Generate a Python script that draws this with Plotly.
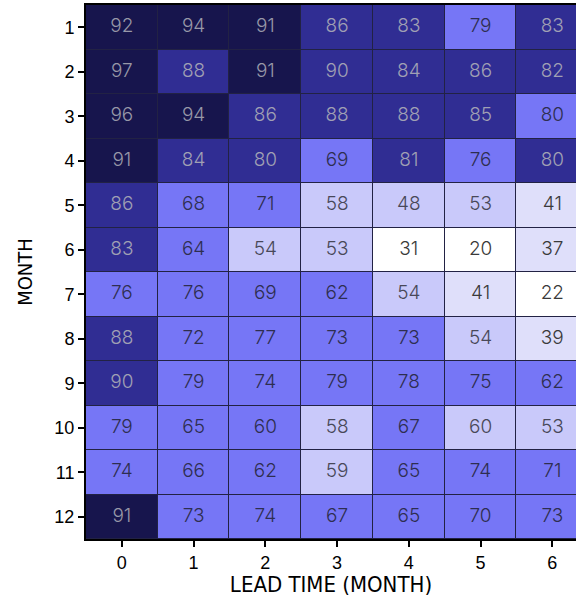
import plotly.graph_objects as go

months = [1, 2, 3, 4, 5, 6, 7, 8, 9, 10, 11, 12]
leads = [0, 1, 2, 3, 4, 5, 6]
month_labels = [str(m) for m in months]
lead_labels = [str(l) for l in leads]

row01 = [92, 94, 91, 86, 83, 79, 83]
row02 = [97, 88, 91, 89.6, 84, 86, 82]
row03 = [96, 94, 86, 88, 88, 85, 79.6]
row04 = [91, 84, 80, 69, 81, 76, 80]
row05 = [86, 68, 71, 58, 48, 53, 41]
row06 = [83, 64, 54, 53, 31, 20, 37]
row07 = [76, 76, 69, 62, 54, 41, 22]
row08 = [88, 72, 77, 73, 73, 54, 39]
row09 = [89.6, 79, 74, 79, 78, 75, 62]
row10 = [79, 65, 60, 58, 67, 59.6, 53]
row11 = [74, 66, 62, 59, 65, 74, 71]
row12 = [91, 73, 74, 67, 65, 70, 73]
skill = [row01, row02, row03, row04, row05, row06, row07, row08, row09, row10, row11, row12]

levels = [0, 35, 45, 60, 80, 90, 100]
level_colors = ["#ffffff", "#dfdffa", "#c9c9fa", "#7676f6", "#302d93", "#17154d"]
text_colors = ["#3a3a3a", "#3a3a3a", "#484858", "#2e2e50", "#a0a0b4", "#9898a8"]

colorscale = []
for i, c in enumerate(level_colors):
    colorscale.append([levels[i] / 100, c])
    colorscale.append([levels[i + 1] / 100, c])

def level_of(v):
    for i in range(len(levels) - 1):
        if levels[i] <= v < levels[i + 1]:
            return i
    return len(levels) - 2

fig = go.Figure()
fig.add_trace(go.Heatmap(
    z=skill, x=leads, y=months, zmin=0, zmax=100,
    colorscale=colorscale, showscale=False, xgap=1, ygap=1,
    hoverinfo="skip",
))

tx, ty, tt, tc = [], [], [], []
for r, m in enumerate(months):
    for c, l in enumerate(leads):
        v = skill[r][c]
        tx.append(l)
        ty.append(m)
        tt.append(str(int(round(v))))
        tc.append(text_colors[level_of(v)])

fig.add_trace(go.Scatter(
    x=tx, y=ty, text=tt, mode="text",
    textfont=dict(family="Inter", size=19, color=tc, weight=300),
    hoverinfo="skip", showlegend=False,
))

fig.update_layout(
    width=576, height=597,
    margin=dict(l=86, r=0, t=5, b=58),
    paper_bgcolor="white", plot_bgcolor="#222244",
    font=dict(family="Liberation Sans", color="black"),
    showlegend=False,
)
fig.update_xaxes(
    range=[-0.5, 6.33], tickvals=leads, ticktext=lead_labels,
    showline=True, linecolor="black", linewidth=2, mirror=True,
    ticks="outside", ticklen=6, tickwidth=2, tickcolor="black",
    tickfont=dict(size=18), showgrid=False, zeroline=False,
    title=dict(text="LEAD TIME (MONTH)", standoff=4,
               font=dict(family="DejaVu Sans Condensed, Liberation Sans", size=22)),
)
fig.update_yaxes(
    range=[12.5, 0.5], tickvals=months, ticktext=month_labels,
    showline=True, linecolor="black", linewidth=2, mirror=False,
    ticks="outside", ticklen=6, tickwidth=2, tickcolor="black",
    tickfont=dict(size=18), showgrid=False, zeroline=False,
    title=dict(text="MONTH", standoff=16,
               font=dict(family="DejaVu Sans Condensed, Liberation Sans", size=20)),
)

fig.write_html("out.html", config={"displayModeBar": False},
               post_script="document.body.style.margin='0';document.body.style.overflow='hidden';")
